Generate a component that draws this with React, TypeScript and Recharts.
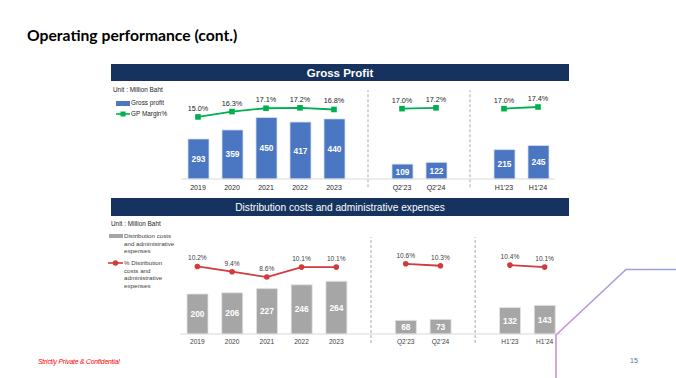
import React from 'react';
import { ComposedChart, Bar, Line, XAxis, YAxis, LabelList, ReferenceLine } from 'recharts';

// slots "sep1" / "sep2" are empty columns where the dashed dividers sit
const periods = ['2019', '2020', '2021', '2022', '2023', 'sep1', 'Q2’23', 'Q2’24', 'sep2', 'H1’23', 'H1’24'];
const grossProfit = [293, 359, 450, 417, 440, null, 109, 122, null, 215, 245];
const gpMargin = [15.0, 16.3, 17.1, 17.2, 16.8, null, 17.0, 17.2, null, 17.0, 17.4];
const distAdminCost = [200, 206, 227, 246, 264, null, 68, 73, null, 132, 143];
const distAdminRatio = [10.2, 9.4, 8.6, 10.1, 10.1, null, 10.6, 10.3, null, 10.4, 10.1];
const separators = ['sep1', 'sep2'];

const topData = periods.map((p, i) => ({ period: p, gp: grossProfit[i], margin: gpMargin[i] }));
const bottomData = periods.map((p, i) => ({ period: p, cost: distAdminCost[i], ratio: distAdminRatio[i] }));

const FONT = '"Liberation Sans", Arial, sans-serif';
const NAVY = '#15335E';
const BLUE = '#4A76C2';
const GREEN = '#00B050';
const RED = '#D23A3C';
const GREY = '#A6A6A6';

const tickFmt = (v: string) => (separators.includes(v) ? '' : v);
const pctFmt = (v: any) => (v == null ? '' : `${Number(v).toFixed(1)}%`);

const GreenSquare = (props: any) => {
  const { cx, cy } = props;
  if (cx == null || cy == null) return null;
  return <rect x={cx - 2.8} y={cy - 2.8} width={5.6} height={5.6} fill={GREEN} />;
};

const Banner: React.FC<{ top: number; height: number; text: string; bold?: boolean; size: number }> = ({ top, height, text, bold, size }) => (
  <div
    style={{
      position: 'absolute', left: 111, top, width: 458, height, background: NAVY, color: '#fff',
      fontFamily: FONT, fontSize: size, fontWeight: bold ? 700 : 400, display: 'flex',
      alignItems: 'center', justifyContent: 'center',
    }}
  >
    {text}
  </div>
);

const small = (extra: React.CSSProperties): React.CSSProperties => ({
  position: 'absolute', fontFamily: FONT, fontSize: 6.4, color: '#262626', lineHeight: '7.7px', whiteSpace: 'nowrap', ...extra,
});

const App: React.FC = () => {
  return (
    <div style={{ position: 'absolute', left: 0, top: 0, width: 676, height: 378, background: '#fff', overflow: 'hidden' }}>
      <div style={{ position: 'absolute', left: 27, top: 26, fontFamily: 'Lato, sans-serif', fontWeight: 700, fontSize: 15.7, color: '#000' }}>
        Operating performance (cont.)
      </div>

      {/* Gross profit */}
      <Banner top={64} height={17} text="Gross Profit" bold size={11.5} />
      <div style={small({ left: 113, top: 86 })}>Unit : Million Baht</div>
      <div style={small({ left: 116, top: 99 })}>
        <span style={{ display: 'inline-block', width: 14, height: 4.5, background: BLUE, verticalAlign: 'middle', marginRight: 1 }} />
        <span style={{ verticalAlign: 'middle' }}>Gross profit</span>
      </div>
      <div style={small({ left: 116, top: 110 })}>
        <svg width={14} height={8} style={{ verticalAlign: 'middle', marginRight: 1 }}>
          <line x1={0} y1={4} x2={14} y2={4} stroke={GREEN} strokeWidth={1.6} />
          <rect x={4.5} y={1.5} width={5} height={5} fill={GREEN} />
        </svg>
        <span style={{ verticalAlign: 'middle' }}>GP Margin%</span>
      </div>
      <div style={{ position: 'absolute', left: 100, top: 82 }}>
        <ComposedChart width={470} height={115} data={topData} margin={{ top: 13, right: 15, bottom: 4, left: 81 }}>
          <XAxis
            dataKey="period" tickFormatter={tickFmt} interval={0} height={14} tickLine={false} tickSize={4} tickMargin={2}
            axisLine={{ stroke: '#D9D9D9' }} tick={{ fontSize: 7, fill: '#262626', fontFamily: FONT }}
          />
          <YAxis yAxisId="bar" hide domain={[0, 615]} />
          <YAxis yAxisId="pct" hide orientation="right" domain={[0, 20.3]} />
          {separators.map((s) => (
            <ReferenceLine
              key={s} yAxisId="bar" ifOverflow="visible"
              segment={[{ x: s, y: -60 }, { x: s, y: 650 }]}
              stroke="#BFBFBF" strokeWidth={1.3} strokeDasharray="3 2"
            />
          ))}
          <Bar yAxisId="bar" dataKey="gp" fill={BLUE} stroke="#D5DFF0" strokeWidth={0.8} barSize={21} isAnimationActive={false}>
            <LabelList dataKey="gp" position="center" fill="#fff" fontSize={8.4} fontWeight={700} fontFamily={FONT} />
          </Bar>
          <Line
            yAxisId="pct" dataKey="margin" stroke={GREEN} strokeWidth={1.8} dot={<GreenSquare />}
            activeDot={false} connectNulls={false} isAnimationActive={false}
          >
            <LabelList dataKey="margin" position="top" offset={6} formatter={pctFmt} fill="#262626" fontSize={7.3} fontFamily={FONT} />
          </Line>
        </ComposedChart>
      </div>

      {/* Distribution costs and administrative expenses */}
      <Banner top={198} height={18} text="Distribution costs and administrative expenses" size={10.2} />
      <div style={small({ left: 111, top: 220 })}>Unit : Million Baht</div>
      <div style={small({ left: 109, top: 232, fontSize: 6.2, color: '#404040' })}>
        <span style={{ display: 'inline-block', width: 14, height: 4, background: GREY, verticalAlign: 'top', marginTop: 1.5, marginRight: 1 }} />
        <span style={{ display: 'inline-block', verticalAlign: 'top' }}>
          Distribution costs<br />and administrative<br />expenses
        </span>
      </div>
      <div style={small({ left: 108, top: 259, fontSize: 6.2, color: '#404040' })}>
        <svg width={15} height={8} style={{ verticalAlign: 'top', marginRight: 1 }}>
          <line x1={0} y1={4} x2={15} y2={4} stroke={RED} strokeWidth={1.6} />
          <circle cx={7.5} cy={4} r={2.7} fill={RED} />
        </svg>
        <span style={{ display: 'inline-block', verticalAlign: 'top' }}>
          % Distribution<br />costs and<br />administrative<br />expenses
        </span>
      </div>
      <div style={{ position: 'absolute', left: 100, top: 216 }}>
        <ComposedChart width={470} height={136} data={bottomData} margin={{ top: 14, right: 8, bottom: 4, left: 80 }}>
          <XAxis
            dataKey="period" tickFormatter={tickFmt} interval={0} height={14} tickLine={false} tickSize={3} tickMargin={2}
            axisLine={{ stroke: '#D9D9D9' }} tick={{ fontSize: 6.6, fill: '#404040', fontFamily: FONT }}
          />
          <YAxis yAxisId="bar" hide domain={[0, 520]} />
          <YAxis yAxisId="pct" hide orientation="right" domain={[0, 15.7]} />
          {separators.map((s) => (
            <ReferenceLine
              key={s} yAxisId="bar" ifOverflow="visible"
              segment={[{ x: s, y: -45 }, { x: s, y: 485 }]}
              stroke="#BFBFBF" strokeWidth={1.3} strokeDasharray="3 2"
            />
          ))}
          <Bar yAxisId="bar" dataKey="cost" fill={GREY} stroke="#E3E3E3" strokeWidth={0.8} barSize={21} isAnimationActive={false}>
            <LabelList dataKey="cost" position="center" fill="#fff" fontSize={8.4} fontWeight={700} fontFamily={FONT} />
          </Bar>
          <Line
            yAxisId="pct" dataKey="ratio" stroke={RED} strokeWidth={1.8} dot={{ r: 2.8, fill: RED, stroke: RED, strokeWidth: 0 }}
            activeDot={false} connectNulls={false} isAnimationActive={false}
          >
            <LabelList dataKey="ratio" position="top" offset={6} formatter={pctFmt} fill="#404040" fontSize={6.6} fontFamily={FONT} />
          </Line>
        </ComposedChart>
      </div>

      {/* footer */}
      <div style={{ position: 'absolute', left: 38, top: 358, fontFamily: FONT, fontStyle: 'italic', fontSize: 6.8, color: '#FF0000', letterSpacing: -0.2 }}>
        Strictly Private &amp; Confidential
      </div>
      <div style={{ position: 'absolute', left: 630, top: 357, fontFamily: FONT, fontSize: 7, color: '#5B6E99' }}>15</div>
      <svg width={676} height={378} style={{ position: 'absolute', left: 0, top: 0, pointerEvents: 'none' }}>
        <defs>
          <linearGradient id="deco" x1="0" y1="1" x2="1" y2="0">
            <stop offset="0%" stopColor="#D08CD6" />
            <stop offset="100%" stopColor="#9AA2DE" />
          </linearGradient>
        </defs>
        <polyline points="556,378 556,335 626,269.5 676,269.5" fill="none" stroke="url(#deco)" strokeWidth={1.6} />
      </svg>
    </div>
  );
};

export default App;
